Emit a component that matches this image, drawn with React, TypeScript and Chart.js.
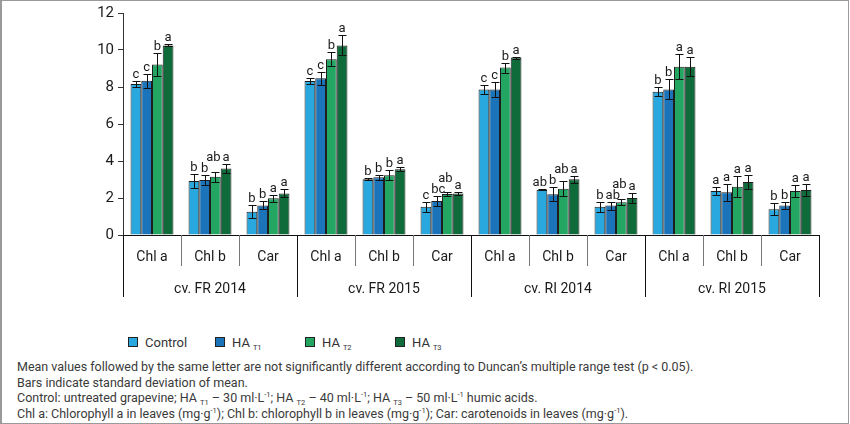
import React, { useEffect, useRef } from "react";
import { Chart, registerables } from "chart.js";

Chart.register(...registerables);

const FONT = "Roboto, 'Noto Sans', Arial, sans-serif";

// ---- data ----
const groupLabels = ["cv. FR 2014", "cv. FR 2015", "cv. RI 2014", "cv. RI 2015"];
const subCategories = ["Chl a", "Chl b", "Car"];
const categories = groupLabels.flatMap((g) => subCategories.map((s) => `${g}|${s}`));

const seriesNames = ["Control", "HA T1", "HA T2", "HA T3"];
const seriesMain = ["Control", "HA", "HA", "HA"];
const seriesSub = ["", "T1", "T2", "T3"];

const control = [8.16, 2.92, 1.26, 8.32, 3.01, 1.53, 7.87, 2.45, 1.53, 7.75, 2.38, 1.39];
const controlErr = [0.17, 0.4, 0.36, 0.18, 0.05, 0.27, 0.24, 0.04, 0.27, 0.25, 0.2, 0.32];
const controlLetters = ["c", "b", "b", "c", "b", "c", "c", "ab", "b", "b", "a", "b"];

const haT1 = [8.34, 2.97, 1.6, 8.47, 3.12, 1.84, 7.87, 2.2, 1.59, 7.87, 2.31, 1.59];
const haT1Err = [0.38, 0.27, 0.22, 0.34, 0.13, 0.29, 0.4, 0.38, 0.22, 0.54, 0.45, 0.18];
const haT1Letters = ["c", "b", "b", "c", "b", "bc", "c", "b", "ab", "b", "a", "b"];

const haT2 = [9.22, 3.15, 1.98, 9.5, 3.23, 2.22, 9.05, 2.5, 1.77, 9.1, 2.61, 2.38];
const haT2Err = [0.6, 0.27, 0.18, 0.39, 0.27, 0.12, 0.27, 0.4, 0.16, 0.66, 0.56, 0.3];
const haT2Letters = ["b", "ab", "a", "b", "b", "ab", "b", "ab", "ab", "a", "a", "a"];

const haT3 = [10.25, 3.6, 2.25, 10.25, 3.55, 2.25, 9.59, 3.01, 2.0, 9.1, 2.86, 2.43];
const haT3Err = [0.05, 0.25, 0.22, 0.54, 0.1, 0.1, 0.05, 0.18, 0.25, 0.52, 0.36, 0.3];
const haT3Letters = ["a", "a", "a", "a", "a", "a", "a", "a", "a", "a", "a", "a"];

const yTicks = [0, 2, 4, 6, 8, 10, 12];

const seriesValues = [control, haT1, haT2, haT3];
const seriesErrors = [controlErr, haT1Err, haT2Err, haT3Err];
const seriesLetters = [controlLetters, haT1Letters, haT2Letters, haT3Letters];
const seriesColors = ["#29A8E0", "#1B73BA", "#22A661", "#0F6B3A"];

type Box = { cx: number; w: number; top: number; bottom: number };

export default function App() {
  const ref = useRef<HTMLCanvasElement>(null);

  useEffect(() => {
    const canvas = ref.current;
    if (!canvas) return;

    const annotPlugin = {
      id: "annot",
      afterDatasetsDraw(chart: any) {
        const ctx = chart.ctx as CanvasRenderingContext2D;
        const ys = chart.scales.y;
        const xs = chart.scales.x;
        ctx.save();
        // error bars
        ctx.strokeStyle = "#111";
        ctx.lineWidth = 1;
        seriesValues.forEach((vals, di) => {
          const meta = chart.getDatasetMeta(di);
          meta.data.forEach((bar: any, i: number) => {
            const v = vals[i];
            const e = seriesErrors[di][i];
            const cx = Math.round(bar.x) + 0.5;
            const yt = Math.round(ys.getPixelForValue(v + e)) + 0.5;
            const yb = Math.round(ys.getPixelForValue(v - e)) + 0.5;
            ctx.beginPath();
            ctx.moveTo(cx, yt);
            ctx.lineTo(cx, yb);
            ctx.moveTo(cx - 4, yt);
            ctx.lineTo(cx + 4, yt);
            ctx.moveTo(cx - 4, yb);
            ctx.lineTo(cx + 4, yb);
            ctx.stroke();
          });
        });
        // significance letters (avoid collisions: small nudge sideways, else lift)
        ctx.font = `13px ${FONT}`;
        ctx.fillStyle = "#1a1a1a";
        ctx.textAlign = "center";
        ctx.textBaseline = "alphabetic";
        const GAP = 2;
        const TH = 10;
        categories.forEach((_, i) => {
          const placed: Box[] = [];
          const conflicts = (cx: number, w: number, top: number, bottom: number) =>
            placed.filter(
              (p) => Math.abs(p.cx - cx) < (p.w + w) / 2 + GAP && top < p.bottom && bottom > p.top
            );
          const order = [0, 1, 2, 3].sort(
            (a, b) => seriesLetters[a][i].length - seriesLetters[b][i].length || a - b
          );
          order.forEach((di) => {
            const vals = seriesValues[di];
            const bar: any = chart.getDatasetMeta(di).data[i];
            const txt = seriesLetters[di][i];
            const w = ctx.measureText(txt).width;
            const cx0 = bar.x;
            let cx = cx0;
            let bottom = ys.getPixelForValue(vals[i] + seriesErrors[di][i]) - 3;
            for (let iter = 0; iter < 40; iter++) {
              const c = conflicts(cx0, w, bottom - TH, bottom);
              if (!c.length) {
                cx = cx0;
                break;
              }
              let done = false;
              for (const p of c) {
                const dx = cx0 - p.cx;
                const need = (p.w + w) / 2 + GAP - Math.abs(dx) + 0.01;
                if (need <= 3) {
                  const cand = cx0 + (dx >= 0 ? 1 : -1) * need;
                  if (!conflicts(cand, w, bottom - TH, bottom).length) {
                    cx = cand;
                    done = true;
                    break;
                  }
                }
              }
              if (done) break;
              bottom = Math.max(...c.map((p) => p.top)) - 1;
            }
            placed.push({ cx, w, top: bottom - TH, bottom });
            ctx.fillText(txt, cx, bottom);
          });
        });

        // multi-level x axis
        const axisY = chart.chartArea.bottom;
        const n = categories.length;
        const step = (xs.right - xs.left) / n;
        ctx.lineWidth = 1;
        for (let k = 0; k <= n; k++) {
          const px = Math.round(xs.left + k * step) + 0.5;
          ctx.beginPath();
          if (k % subCategories.length === 0) {
            ctx.strokeStyle = "#111";
            ctx.moveTo(px, axisY);
            ctx.lineTo(px, axisY + 62);
          } else {
            ctx.strokeStyle = "#777";
            ctx.moveTo(px, axisY);
            ctx.lineTo(px, axisY + 31);
          }
          ctx.stroke();
        }
        ctx.font = `14px ${FONT}`;
        ctx.fillStyle = "#1a1a1a";
        ctx.textBaseline = "middle";
        categories.forEach((c, i) => {
          const label = c.split("|")[1];
          ctx.fillText(label, xs.getPixelForValue(i), axisY + 22);
        });
        groupLabels.forEach((g, gi) => {
          const a = xs.left + gi * subCategories.length * step;
          const b = a + subCategories.length * step;
          ctx.fillText(g, (a + b) / 2, axisY + 54);
        });
        ctx.restore();
      },
    };

    const chart = new Chart(canvas, {
      type: "bar",
      data: {
        labels: categories,
        datasets: seriesValues.map((vals, di) => ({
          label: seriesNames[di],
          data: vals,
          backgroundColor: seriesColors[di],
          borderColor: "#1e1e1e",
          borderWidth: 1,
          categoryPercentage: 0.74,
          barPercentage: 1.0,
        })),
      },
      options: {
        responsive: false,
        animation: false,
        devicePixelRatio: 1,
        layout: { padding: { left: 0, right: 31, top: 13, bottom: 0 } },
        plugins: { legend: { display: false }, tooltip: { enabled: false } },
        scales: {
          x: {
            grid: { display: false, drawTicks: false },
            ticks: { display: false },
            border: { display: true, color: "#111", width: 1 },
            afterFit: (scale: any) => {
              scale.height = 75;
            },
          },
          y: {
            min: 0,
            max: 12,
            afterBuildTicks: (scale: any) => {
              scale.ticks = yTicks.map((v) => ({ value: v }));
            },
            grid: { drawOnChartArea: false, drawTicks: true, tickLength: 5, color: "#333" },
            border: { display: true, color: "#333", width: 1 },
            ticks: {
              font: { family: FONT, size: 15 },
              color: "#1a1a1a",
              padding: 4,
            },
            afterFit: (scale: any) => {
              scale.width = 123;
            },
          },
        },
      },
      plugins: [annotPlugin],
    });
    return () => chart.destroy();
  }, []);

  const legendLeft = [128, 215, 305, 395];
  const sub = { fontSize: "7.5px", lineHeight: 0, verticalAlign: "-3px" } as React.CSSProperties;
  const legendSub = { fontSize: "7.5px", lineHeight: 0, verticalAlign: "-3px", marginLeft: 3 } as React.CSSProperties;
  const sup = { fontSize: "7.5px", lineHeight: 0, verticalAlign: "5px" } as React.CSSProperties;

  return (
    <div
      style={{
        position: "absolute",
        left: 0,
        top: 0,
        width: 850,
        height: 424,
        background: "#fff",
        fontFamily: FONT,
        overflow: "hidden",
      }}
    >
      <div
        style={{
          position: "absolute",
          left: 0,
          top: 0,
          width: 849,
          height: 424,
          boxSizing: "border-box",
          borderTop: "1px solid #9a9a9a",
          borderLeft: "2px solid #9a9a9a",
          borderRight: "1px solid #9a9a9a",
          borderBottom: "1px solid #9a9a9a",
          pointerEvents: "none",
        }}
      />
      <canvas ref={ref} width={850} height={310} style={{ position: "absolute", left: 0, top: 0, width: 850, height: 310 }} />
      {seriesNames.map((name, di) => (
        <div
          key={name}
          style={{
            position: "absolute",
            left: legendLeft[di],
            top: 334,
            height: 16,
            display: "flex",
            alignItems: "center",
            fontSize: 13,
            color: "#333",
            whiteSpace: "nowrap",
          }}
        >
          <span
            style={{
              display: "inline-block",
              width: 8,
              height: 8,
              background: seriesColors[di],
              border: "1px solid #222",
              marginRight: 7,
            }}
          />
          <span>
            {seriesMain[di]}
            {seriesSub[di] ? <span style={legendSub}>{seriesSub[di]}</span> : null}
          </span>
        </div>
      ))}
      <div
        style={{
          position: "absolute",
          left: 17,
          top: 359,
          fontSize: 12.5,
          lineHeight: "15.5px",
          color: "#3a3a3a",
          whiteSpace: "nowrap",
        }}
      >
        <div>Mean values followed by the same letter are not significantly different according to Duncan’s multiple range test (p &lt; 0.05).</div>
        <div>Bars indicate standard deviation of mean.</div>
        <div>
          Control: untreated grapevine; HA <span style={sub}>T1</span> – 30 ml·L<span style={sup}>-1</span>; HA{" "}
          <span style={sub}>T2</span> – 40 ml·L<span style={sup}>-1</span>; HA <span style={sub}>T3</span> – 50 ml·L
          <span style={sup}>-1</span> humic acids.
        </div>
        <div>
          Chl a: Chlorophyll a in leaves (mg·g<span style={sup}>-1</span>); Chl b: chlorophyll b in leaves (mg·g
          <span style={sup}>-1</span>); Car: carotenoids in leaves (mg·g<span style={sup}>-1</span>).
        </div>
      </div>
    </div>
  );
}
